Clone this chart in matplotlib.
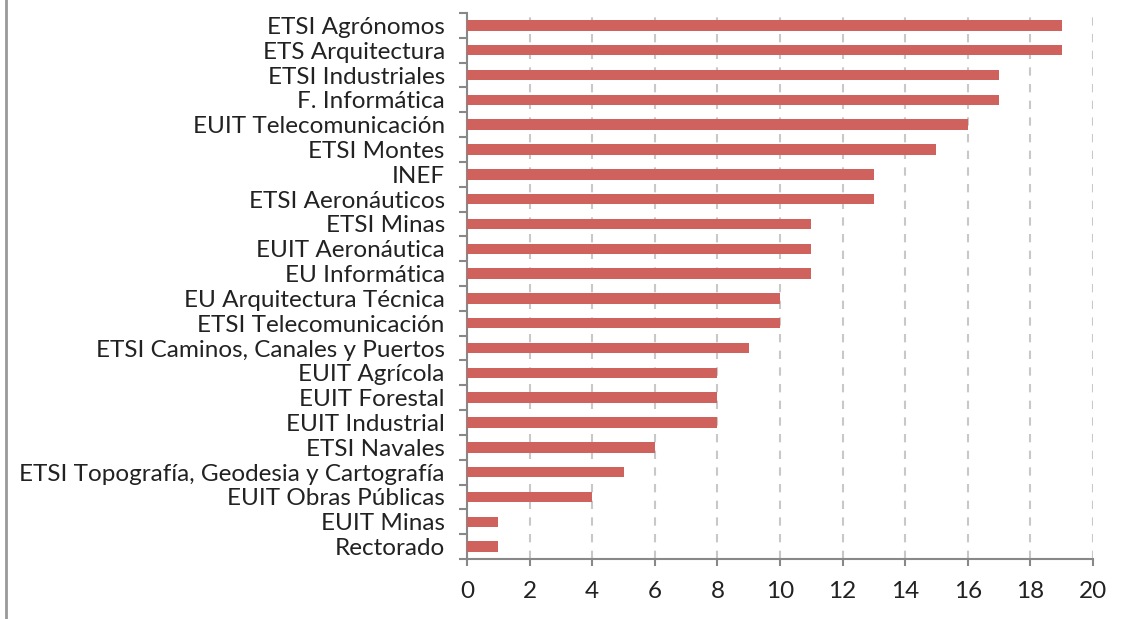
import numpy as np
import matplotlib
matplotlib.use("Agg")
from matplotlib import pyplot as plt
from matplotlib.lines import Line2D

centros = ["ETSI Agrónomos", "ETS Arquitectura", "ETSI Industriales", "F. Informática",
           "EUIT Telecomunicación", "ETSI Montes", "INEF", "ETSI Aeronáuticos",
           "ETSI Minas", "EUIT Aeronáutica", "EU Informática", "EU Arquitectura Técnica",
           "ETSI Telecomunicación", "ETSI Caminos, Canales y Puertos", "EUIT Agrícola",
           "EUIT Forestal", "EUIT Industrial", "ETSI Navales",
           "ETSI Topografía, Geodesia y Cartografía", "EUIT Obras Públicas",
           "EUIT Minas", "Rectorado"]
valores = [19, 19, 17, 17, 16, 15, 13, 13, 11, 11, 11, 10, 10, 9, 8, 8, 8, 6, 5, 4, 1, 1]
xticks = list(range(0, 21, 2))

plt.rcParams['font.family'] = ['Lato', 'DejaVu Sans']

fig = plt.figure(figsize=(11.30, 6.19), dpi=100)
ax = fig.add_axes([467/1130, 1-559/619, (1093-467)/1130, (559-13)/619])

n = len(centros)
pos = np.arange(n)[::-1]
ax.barh(pos, valores, height=0.42, color='#d0625e', zorder=3)

ax.set_xlim(0, 20)
ax.set_ylim(-0.5, n-0.5)
ax.set_xticks(xticks)
ax.set_xticklabels([str(t) for t in xticks], fontsize=17.5, color='#222222')
ax.set_yticks(pos)
ax.set_yticklabels(centros, fontsize=17.5, color='#222222')
ax.tick_params(axis='y', length=0, pad=16)
ax.set_yticks(np.arange(-0.5, n, 1), minor=True)
ax.tick_params(axis='y', which='minor', length=6, width=1.5, color='#888888', direction='out')
ax.tick_params(axis='x', length=5, width=1.5, color='#888888', pad=11)

for s in ['top', 'right']:
    ax.spines[s].set_visible(False)
for s in ['left', 'bottom']:
    ax.spines[s].set_color('#888888')
    ax.spines[s].set_linewidth(1.5)

ax.grid(axis='x', linestyle=(0, (4, 4)), color='#c8c8c8', linewidth=1.5, zorder=0)

fig.add_artist(Line2D([6/1130, 6/1130], [0, 1], transform=fig.transFigure,
                      color='#999999', linewidth=2))

fig.savefig('out.png', dpi=100)
